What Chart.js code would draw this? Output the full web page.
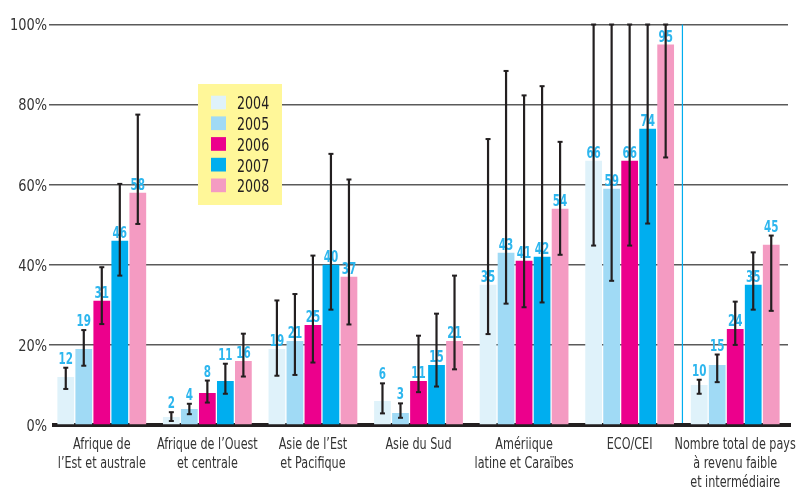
<!DOCTYPE html>
<html><head><meta charset="utf-8">
<script src="https://cdn.jsdelivr.net/npm/chart.js@4.4.1/dist/chart.umd.min.js"></script>
<style>html,body{margin:0;padding:0;background:#fff}#wrap{width:798px;height:487px;position:relative}</style>
</head><body><div id="wrap"><canvas id="c"></canvas></div>
<script>
const categories = [['Afrique de','l’Est et australe'],['Afrique de l’Ouest','et centrale'],['Asie de l’Est','et Pacifique'],['Asie du Sud'],['Amériique','latine et Caraïbes'],['ECO/CEI'],['Nombre total de pays','à revenu faible','et intermédiaire']];
const years = ['2004','2005','2006','2007','2008'];
const v2004 = [12,2,19,6,35,66,10];
const v2005 = [19,4,21,3,43,59,15];
const v2006 = [31,8,25,11,41,66,24];
const v2007 = [46,11,40,15,42,74,35];
const v2008 = [58,16,37,21,54,95,45];
const lo2004 = [9,1,12.3,2.9,22.7,44.8,7.8];
const hi2004 = [14.3,3.2,31.1,10.4,71.4,100,11.3];
const lo2005 = [14.8,2.7,12.5,1.8,30.3,36,10.7];
const hi2005 = [23.7,5.3,32.7,5.4,88.4,100,17.6];
const lo2006 = [25.2,5.6,15.6,8.2,29.4,44.8,20];
const hi2006 = [39.4,11.1,42.3,22.3,82.3,100,30.8];
const lo2007 = [37.3,7.8,28.8,9.6,30.6,50.3,28.8];
const hi2007 = [60.2,15.3,67.7,27.8,84.6,100,43.1];
const lo2008 = [50.2,12.1,25.1,13.9,42.5,66.8,28.5];
const hi2008 = [77.5,22.8,61.3,37.3,70.7,100,47.3];
const yTicks = [0,20,40,60,80,100];

const colors = ['#dff2fa','#a0daf5','#ec008c','#00aeef','#f49bc2'];
const FONT = "'Liberation Sans Narrow','DejaVu Sans Condensed',sans-serif";
const values = [v2004,v2005,v2006,v2007,v2008];
const lows = [lo2004,lo2005,lo2006,lo2007,lo2008];
const highs = [hi2004,hi2005,hi2006,hi2007,hi2008];

const datasets = years.map((yr,i)=>({
  label: yr, data: values[i], backgroundColor: colors[i], borderWidth: 0,
  errLow: lows[i], errHigh: highs[i],
  categoryPercentage: 0.853, barPercentage: 0.93
}));

function narrowText(ctx, text, x, y, sx, align){
  ctx.save();
  ctx.translate(x, y);
  ctx.scale(sx, 1);
  ctx.textAlign = align;
  ctx.fillText(text, 0, 0);
  ctx.restore();
}

const overlay = {
  id: 'overlay',
  beforeDatasetsDraw(chart){
    const {ctx, chartArea:a, scales:{x,y}} = chart;
    ctx.save();
    const y0 = y.getPixelForValue(0);
    // separator line
    const sx = (x.getPixelForValue(5)+x.getPixelForValue(6))/2;
    ctx.strokeStyle = '#00aeef'; ctx.lineWidth = 1.2;
    ctx.beginPath(); ctx.moveTo(sx, y.getPixelForValue(100)); ctx.lineTo(sx, y0); ctx.stroke();
    // baseline band
    ctx.fillStyle = '#231f20';
    ctx.fillRect(a.left+3, y0-2, a.right-a.left, 4);
    // legend
    const lx = 198, ly = 84, lw = 84, lh = 121;
    ctx.fillStyle = '#fff799';
    ctx.fillRect(lx, ly, lw, lh);
    ctx.font = "18.5px " + FONT;
    ctx.textBaseline = 'alphabetic';
    chart.data.datasets.forEach((ds,i)=>{
      const top = 95.7 + i*20.7;
      ctx.fillStyle = ds.backgroundColor;
      ctx.fillRect(211, top, 15, 13.7);
      ctx.fillStyle = '#231f20';
      narrowText(ctx, ds.label, 237, top+13.7, 0.76, 'left');
    });
    ctx.restore();
  },
  afterDatasetsDraw(chart){
    const {ctx, scales:{y}} = chart;
    ctx.save();
    // value labels
    ctx.font = "bold 16.5px " + FONT;
    ctx.fillStyle = '#2db6ee';
    ctx.textBaseline = 'alphabetic';
    chart.data.datasets.forEach((ds,i)=>{
      const meta = chart.getDatasetMeta(i);
      meta.data.forEach((bar,j)=>{
        const v = ds.data[j], hi = ds.errHigh[j];
        const ref = (hi - v < 5) ? y.getPixelForValue(hi) - 4 : y.getPixelForValue(v) - 3;
        narrowText(ctx, String(v), bar.x, ref, 0.7, 'center');
      });
    });
    // error bars
    ctx.strokeStyle = '#231f20'; ctx.fillStyle = '#231f20'; ctx.lineWidth = 2.2;
    chart.data.datasets.forEach((ds,i)=>{
      const meta = chart.getDatasetMeta(i);
      meta.data.forEach((bar,j)=>{
        const yl = y.getPixelForValue(ds.errLow[j]);
        const yh = y.getPixelForValue(ds.errHigh[j]);
        ctx.beginPath(); ctx.moveTo(bar.x, yl); ctx.lineTo(bar.x, yh); ctx.stroke();
        ctx.fillRect(bar.x-2.5, yh-1, 5, 2);
        ctx.fillRect(bar.x-2.5, yl-1, 5, 2);
      });
    });
    ctx.restore();
  },
  afterDraw(chart){
    const {ctx, scales:{x,y}} = chart;
    ctx.save();
    ctx.fillStyle = '#333';
    ctx.textBaseline = 'alphabetic';
    // y axis tick labels
    ctx.font = "16px " + FONT;
    y.ticks.forEach(t=>{
      const py = y.getPixelForValue(t.value);
      narrowText(ctx, t.value + '%', 47, py + 5.8, 0.9, 'right');
    });
    // x axis category labels
    ctx.font = "15px " + FONT;
    chart.data.labels.forEach((lab,i)=>{
      const px = x.getPixelForValue(i);
      const lines = Array.isArray(lab) ? lab : [lab];
      lines.forEach((ln,k)=>{
        narrowText(ctx, ln, px, 449.3 + k*18.6, 0.83, 'center');
      });
    });
    ctx.restore();
  }
};

new Chart(document.getElementById('c'), {
  type: 'bar',
  data: { labels: categories, datasets },
  options: {
    responsive: true, maintainAspectRatio: false, animation: false,
    layout: { padding: { top: 24.5, right: 10, left: 0, bottom: 0 } },
    plugins: { legend: { display: false }, tooltip: { enabled: false } },
    scales: {
      x: {
        grid: { display: false, drawTicks: false },
        border: { display: false },
        ticks: { display: false },
        afterFit(s){ s.height = 62; }
      },
      y: {
        min: 0, max: 100,
        afterBuildTicks(s){ s.ticks = yTicks.map(v=>({value:v})); },
        grid: { drawTicks: false, color: c => c.tick && c.tick.value === 0 ? 'rgba(0,0,0,0)' : '#5a5a5a', lineWidth: 1.4 },
        border: { display: false },
        ticks: { display: false },
        afterFit(s){ s.width = 49; }
      }
    }
  },
  plugins: [overlay]
});
</script></body></html>
